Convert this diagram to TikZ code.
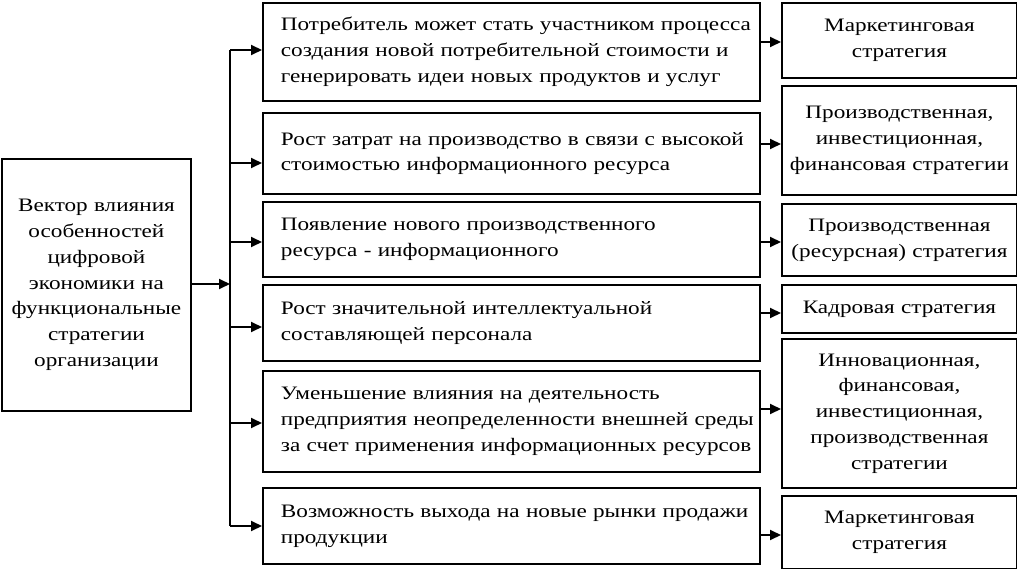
\documentclass[tikz,border=0pt]{standalone}
\usepackage{fontspec}
\setmainfont{Liberation Serif}[FakeStretch=1.22]
\usetikzlibrary{positioning,calc,arrows.meta}
\tikzset{>={Triangle[length=11pt,width=10pt]}}

\begin{document}
\begin{tikzpicture}[x=1pt,y=-1pt,
  font=\fontsize{19}{25.8}\selectfont,
  box/.style={draw,line width=1.9pt,inner ysep=0pt,anchor=north west},
  midbox/.style={box,text width=493pt,inner xsep=2pt,
    execute at begin node={\leftskip=16pt\relax}},
  stratbox/.style={box,text width=229pt,inner xsep=3pt,align=center},
  link/.style={line width=1.9pt,->}]
\useasboundingbox (0,0) rectangle (1017,569);

% Vector box on the left
\node[box,text width=183pt,inner xsep=3pt,align=center,minimum height=252pt]
  (vec) at (1,158) {Вектор влияния\\особенностей\\цифровой\\экономики на\\функциональные\\стратегии\\организации};

% Features of the digital economy
\node[midbox,minimum height=98pt] (m1) at (262,2)
  {Потребитель может стать участником процесса\\создания новой потребительной стоимости и\\генерировать идеи новых продуктов и услуг};
\node[midbox,minimum height=81pt] (m2) at (262,112)
  {Рост затрат на производство в связи с высокой\\стоимостью информационного ресурса};
\node[midbox,minimum height=75pt] (m3) at (262,201)
  {Появление нового производственного\\ресурса - информационного};
\node[midbox,minimum height=76pt] (m4) at (262,284)
  {Рост значительной интеллектуальной\\составляющей персонала};
\node[midbox,minimum height=101pt] (m5) at (262,370)
  {Уменьшение влияния на деятельность\\предприятия неопределенности внешней среды\\за счет применения информационных ресурсов};
\node[midbox,minimum height=76pt] (m6) at (262,487)
  {Возможность выхода на новые рынки продажи\\продукции};

% Functional strategies
\node[stratbox,minimum height=75pt] (r1) at (781,2) {Маркетинговая\\стратегия};
\node[stratbox,minimum height=109pt] (r2) at (781,85) {Производственная,\\инвестиционная,\\финансовая стратегии};
\node[stratbox,minimum height=72pt] (r3) at (781,203) {Производственная\\(ресурсная) стратегия};
\node[stratbox,minimum height=48pt] (r4) at (781,284) {Кадровая стратегия};
\node[stratbox,minimum height=149pt] (r5) at (781,338) {Инновационная,\\финансовая,\\инвестиционная,\\производственная\\стратегии};
\node[stratbox,minimum height=73pt] (r6) at (781,495) {Маркетинговая\\стратегия};

% Bus between the vector and the features
\coordinate (bustop) at (230,50);
\coordinate (busbot) at (230,526);
\coordinate (busin) at (230,284);
\draw[line width=1.9pt] (bustop) -- (busbot);
\draw[link] (vec.east|-busin) -- (busin);
\foreach \m/\y in {m1/50,m2/163,m3/242,m4/327,m5/423,m6/526}
  \draw[link] (230,\y) -- (\m.west|-0,\y);

% Features to strategies
\foreach \m/\r/\y in {m1/r1/42,m2/r2/144,m3/r3/242,m4/r4/313,m5/r5/409,m6/r6/535}
  \draw[link] (\m.east|-0,\y) -- (\r.west|-0,\y);

\end{tikzpicture}
\end{document}
